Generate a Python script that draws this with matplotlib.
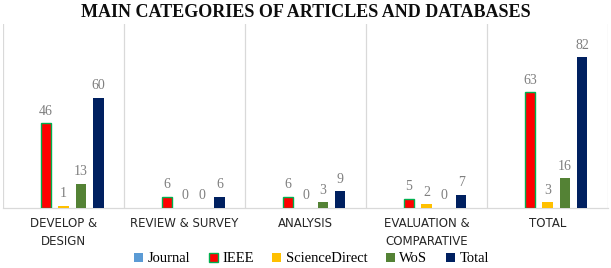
import numpy as np
import matplotlib
matplotlib.use("Agg")
import matplotlib.pyplot as plt

# ── Data ─────────────────────────────────────────────────────
CATEGORIES = ["DEVELOP &\nDESIGN", "REVIEW & SURVEY", "ANALYSIS",
              "EVALUATION &\nCOMPARATIVE", "TOTAL"]
SERIES = ["Journal", "IEEE", "ScienceDirect", "WoS", "Total"]
JOURNAL = [0, 0, 0, 0, 0]
IEEE = [46, 6, 6, 5, 63]
SCIENCEDIRECT = [1, 0, 0, 2, 3]
WOS = [13, 0, 3, 0, 16]
TOTAL = [60, 6, 9, 7, 82]
SHOW_LABELS = [False, True, True, True, True]

COLORS = ["#5B9BD5", "#FF0000", "#FFC000", "#548235", "#002060"]
EDGES = [None, "#00B050", None, None, None]

plt.rcParams.update({
    "font.family": ["Liberation Serif", "DejaVu Serif"],
})

fig = plt.figure(figsize=(6.11, 2.68), dpi=100)
ax = fig.add_axes([0.005, 0.225, 0.99, 0.685])

x = np.arange(len(CATEGORIES))
width = 0.085
step = 0.144
values = [JOURNAL, IEEE, SCIENCEDIRECT, WOS, TOTAL]

for i, (name, vals) in enumerate(zip(SERIES, values)):
    pos = x + (i - 2) * step
    kw = dict(color=COLORS[i], width=width, label=name, zorder=3)
    if EDGES[i]:
        kw.update(edgecolor=EDGES[i], linewidth=1.0)
    ax.bar(pos, vals, **kw)
    if SHOW_LABELS[i]:
        for px, v in zip(pos, vals):
            ax.text(px, v + 3, str(v), ha="center", va="bottom",
                    fontsize=10, color="#7F7F7F")

ax.set_xlim(-0.5, len(CATEGORIES) - 0.5)
ax.set_ylim(0, 100)
ax.set_yticks([])

# category separators
for b in np.arange(-0.5, len(CATEGORIES), 1.0):
    ax.axvline(b, color="#D9D9D9", linewidth=0.9, zorder=1)

for s in ["top", "left", "right"]:
    ax.spines[s].set_visible(False)
ax.spines["bottom"].set_color("#D9D9D9")
ax.spines["bottom"].set_linewidth(0.9)

ax.set_xticks(x)
ax.set_xticklabels(CATEGORIES, fontsize=8.5, family=["DejaVu Sans"],
                   color="#262626", linespacing=1.45)
ax.tick_params(axis="x", length=0, pad=7)

fig.suptitle("MAIN CATEGORIES OF ARTICLES AND DATABASES",
             x=0.5, y=0.985, fontsize=13, fontweight="bold",
             color="#0D0D0D")

fig.legend(loc="center", bbox_to_anchor=(0.51, 0.034), ncol=5,
           frameon=False, fontsize=10.5, handlelength=0.6,
           handleheight=0.6, handletextpad=0.3, columnspacing=1.3,
           borderpad=0)

fig.savefig("out.png", dpi=100)
